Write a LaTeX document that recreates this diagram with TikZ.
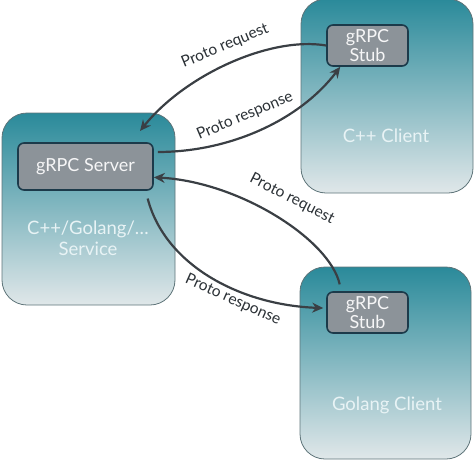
\documentclass[tikz,border=0pt]{standalone}
\usepackage{fontspec}
\setmainfont{Lato}
\usetikzlibrary{arrows.meta}
\definecolor{tealtop}{HTML}{2A8A9A}
\definecolor{tealmid}{HTML}{5EA3AE}
\definecolor{tealbot}{HTML}{E0E7E9}
\definecolor{boxedge}{HTML}{5E7479}
\definecolor{stubfill}{HTML}{8C9399}
\definecolor{stubedge}{HTML}{1C3A4A}
\definecolor{arrowcol}{HTML}{3A3F44}
\definecolor{labelcol}{HTML}{2A3035}
\definecolor{lighttext}{HTML}{E8F3F5}
\begin{document}
\begin{tikzpicture}[x=1pt,y=-1pt,
  outerbox/.style={draw=boxedge, line width=0.8pt, rounded corners=25pt,
    top color=tealtop, middle color=tealmid, bottom color=tealbot, inner sep=0pt},
  stubbox/.style={draw=stubedge, line width=1.6pt, fill=stubfill, rounded corners=6pt,
    inner sep=0pt, align=center, text=white!92!stubfill, font=\fontsize{18}{19}\selectfont},
  boxtext/.style={text=lighttext, align=center, font=\fontsize{18.5}{21}\selectfont},
  conn/.style={draw=arrowcol, line width=2.2pt, -{Stealth[length=11pt,width=10pt]}},
  lbl/.style={text=labelcol, font=\fontsize{15.5}{17}\selectfont}]
\useasboundingbox (0,0) rectangle (474,461);

% outer boxes
\node[outerbox, minimum width=173pt, minimum height=192pt] (svc) at (88.5,209) {};
\node[outerbox, minimum width=172pt, minimum height=194pt] (cpp) at (387,96) {};
\node[outerbox, minimum width=171pt, minimum height=192pt] (go) at (385.5,363) {};

% inner boxes
\node[stubbox, minimum width=135pt, minimum height=47pt] (server) at (85.5,166.5) {gRPC Server};
\node[stubbox, minimum width=81pt, minimum height=41pt] (stub1) at (367.5,45.5) {gRPC\\Stub};
\node[stubbox, minimum width=81pt, minimum height=41pt] (stub2) at (367.5,312.5) {gRPC\\Stub};

% box texts
\node[boxtext] (svctext) at (88,238) {C++/Golang/…\\Service};
\node[boxtext] (cpptext) at (386,136) {C++ Client};
\node[boxtext] (gotext) at (387,405) {Golang Client};

% connectors
\coordinate (tip1) at (140,131);
\draw[conn] (stub1.west) .. controls (270,36) and (185,75) .. (tip1);
\draw[conn, shorten <=4pt] (server.12) .. controls (230,152) and (300,120) .. (stub1.218);
\draw[conn, shorten <=7pt] (stub2.141) .. controls (330,240) and (240,182) .. (server.-9);
\draw[conn, shorten <=8pt, shorten >=3pt] (server.-22) .. controls (165,265) and (240,305) .. (stub2.174);

% labels
\node[lbl, rotate=22.5] (l1) at (225,46) {Proto request};
\node[lbl, rotate=23] (l2) at (245,116) {Proto response};
\node[lbl, rotate=-27] (l3) at (292,199) {Proto request};
\node[lbl, rotate=-24] (l4) at (233,300) {Proto response};
\end{tikzpicture}
\end{document}
